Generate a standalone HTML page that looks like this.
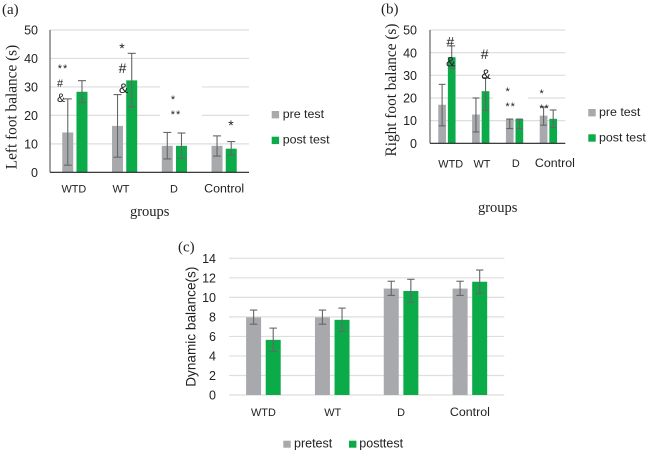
<!DOCTYPE html>
<html lang="en">
<head>
<meta charset="utf-8">
<title>Balance charts</title>
<style>
html,body{margin:0;padding:0;background:#fff}
body{width:648px;height:452px;overflow:hidden}
svg{display:block;filter:blur(.35px)}
.serif{font-family:"Liberation Serif",serif;fill:#222}
.sans{font-family:"Liberation Sans",sans-serif;fill:#222}
</style>
</head>
<body>
<svg id="figure" width="648" height="452" viewBox="0 0 648 452" xmlns="http://www.w3.org/2000/svg">
  <rect width="648" height="452" fill="#fff"/>

  <g id="panel-a">
    <text class="serif" x="2" y="14" font-size="15">(a)</text>
    <g id="a-grid"></g>
    <rect x="160" y="84" width="42" height="34" fill="#fff"/>
    <g id="a-marks"></g>
    <text class="serif" transform="translate(16.5,107) rotate(-90)" text-anchor="middle" font-size="15.3">Left foot balance (s)</text>
    <text class="serif" x="149.7" y="216" text-anchor="middle" font-size="14.5">groups</text>
    <rect x="271.7" y="111" width="7.4" height="7.4" fill="#a7a9ac"/>
    <text class="sans" x="282.7" y="118" font-size="12.4">pre test</text>
    <rect x="271.7" y="136.7" width="7.4" height="7.4" fill="#0bab4a"/>
    <text class="sans" x="282.7" y="143.7" font-size="12.4">post test</text>
    <g class="sans" text-anchor="middle">
      <text x="63" y="72" font-size="11" letter-spacing="1">**</text>
      <text x="60" y="87" font-size="11">#</text>
      <text x="61" y="102" font-size="12">&amp;</text>
      <text x="122" y="53" font-size="14">*</text>
      <text x="122.5" y="73" font-size="14">#</text>
      <text x="123.5" y="93" font-size="14">&amp;</text>
      <text x="173" y="103" font-size="11">*</text>
      <text x="176" y="118" font-size="11" letter-spacing="1">**</text>
      <text x="231" y="130" font-size="14">*</text>
    </g>
  </g>

  <g id="panel-b">
    <text class="serif" x="381" y="13.5" font-size="15">(b)</text>
    <g id="b-grid"></g>
    <rect x="493" y="96" width="35" height="4" fill="#fff"/>
    <g id="b-marks"></g>
    <text class="serif" transform="translate(396,90) rotate(-90)" text-anchor="middle" font-size="15.3">Right foot balance (s)</text>
    <text class="serif" x="497.7" y="212" text-anchor="middle" font-size="14.5">groups</text>
    <rect x="588.3" y="109" width="7.4" height="7.4" fill="#a7a9ac"/>
    <text class="sans" x="599" y="116" font-size="12.4">pre test</text>
    <rect x="588.3" y="134.3" width="7.4" height="7.4" fill="#0bab4a"/>
    <text class="sans" x="599" y="141.7" font-size="12.4">post test</text>
    <g class="sans" text-anchor="middle">
      <text x="450.3" y="46.5" font-size="14">#</text>
      <text x="450.7" y="66.5" font-size="14">&amp;</text>
      <text x="484.7" y="59" font-size="14">#</text>
      <text x="486" y="79" font-size="14">&amp;</text>
      <text x="507.7" y="95" font-size="11">*</text>
      <text x="510.7" y="110" font-size="11" letter-spacing="1">**</text>
      <text x="541.7" y="97" font-size="11">*</text>
      <text x="544.7" y="112" font-size="11" letter-spacing="1">**</text>
    </g>
  </g>

  <g id="panel-c">
    <text class="serif" x="178" y="251.5" font-size="15">(c)</text>
    <g id="c-grid"></g>
    <g id="c-marks"></g>
    <text class="sans" transform="translate(195.5,326.7) rotate(-90)" text-anchor="middle" font-size="13.6">Dynamic balance(s)</text>
    <rect x="283.3" y="440.7" width="7.4" height="7" fill="#a7a9ac"/>
    <text class="sans" x="294" y="447.7" font-size="12.5">pretest</text>
    <rect x="349" y="440.7" width="7.4" height="7" fill="#0bab4a"/>
    <text class="sans" x="359.3" y="447.7" font-size="12.5">posttest</text>
  </g>
</svg>

<script>
const categories = ['WTD', 'WT', 'D', 'Control'];
const ticksFoot = [0, 10, 20, 30, 40, 50];
const ticksDynamic = [0, 2, 4, 6, 8, 10, 12, 14];

const leftPre = [14, 16.3, 9.3, 9.3];
const leftPost = [28.3, 32.3, 9.3, 8.3];
const leftPreLow = [2.5, 5.3, 4.7, 5.7];
const leftPreHigh = [25.8, 27.3, 14, 12.8];
const leftPostLow = [24.5, 23, 5, 6];
const leftPostHigh = [32.2, 41.8, 13.8, 10.8];

const rightPre = [17, 12.7, 10.7, 12.2];
const rightPost = [38, 23, 10.7, 10.8];
const rightPreLow = [7.7, 5, 6.5, 8];
const rightPreHigh = [26, 20, 10.7, 16];
const rightPostLow = [33, 14.5, 6.5, 7];
const rightPostHigh = [43, 29, 10.7, 14.7];

const dynamicPre = [7.95, 7.95, 10.9, 10.9];
const dynamicPost = [5.65, 7.7, 10.65, 11.6];
const dynamicPreLow = [7.25, 7.25, 10.2, 10.2];
const dynamicPreHigh = [8.7, 8.7, 11.65, 11.65];
const dynamicPostLow = [4.45, 6.5, 9.5, 10.4];
const dynamicPostHigh = [6.85, 8.9, 11.85, 12.8];

const SVGNS = 'http://www.w3.org/2000/svg';

function make(tag, parent, props) {
  const el = document.createElementNS(SVGNS, tag);
  for (const k in props) el.setAttribute(k, props[k]);
  parent.appendChild(el);
  return el;
}

function drawChart(cfg) {
  const grid = document.getElementById(cfg.id + '-grid');
  const marks = document.getElementById(cfg.id + '-marks');
  const maxTick = cfg.ticks[cfg.ticks.length - 1];
  const y = v => cfg.y0 - (v / maxTick) * (cfg.y0 - cfg.yTop);
  const band = (cfg.x1 - cfg.x0) / categories.length;
  const cx = i => cfg.x0 + band * (i + 0.5);

  cfg.ticks.forEach(t => {
    if (t !== 0 || !cfg.axes) {
      const line = make('line', grid, {x1: cfg.x0, x2: cfg.x1, y1: y(t), y2: y(t), stroke: '#dedede', 'stroke-width': 1.2});
      
      
    }
    const label = make('text', marks, {x: cfg.tickX, y: y(t) + 4.6, 'text-anchor': 'end', 'font-size': cfg.tickSize, class: 'sans'});
    label.textContent = t;
    
    
  });

  function series(values, low, high, color, offset, name) {
    values.forEach((v, i) => {
      const left = cx(i) + offset - cfg.barW / 2;
      const bar = make('rect', marks, {x: left, y: y(v), width: cfg.barW, height: y(0) - y(v), fill: color});
      
      
      const mid = left + cfg.barW / 2;
      const stem = make('line', marks, {x1: mid, x2: mid, y1: y(high[i]), y2: y(low[i]), stroke: '#666', 'stroke-width': 1.1});
      
      
      [low[i], high[i]].forEach(e => {
        const cap = make('line', marks, {x1: mid - cfg.cap, x2: mid + cfg.cap, y1: y(e), y2: y(e), stroke: '#666', 'stroke-width': 1.1});
        
        
      });
    });
  }
  series(cfg.pre, cfg.preLow, cfg.preHigh, '#a7a9ac', -cfg.barOff, 'pre');
  series(cfg.post, cfg.postLow, cfg.postHigh, '#0bab4a', cfg.barOff, 'post');

  if (cfg.axes) {
    const yAxis = make('line', marks, {x1: cfg.x0, x2: cfg.x0, y1: cfg.yTop, y2: cfg.y0, stroke: '#444', 'stroke-width': 1});
    
    
    const xAxis = make('line', marks, {x1: cfg.x0, x2: cfg.x1, y1: cfg.y0, y2: cfg.y0, stroke: '#222', 'stroke-width': 1.2});
    
    
  }

  categories.forEach((c, i) => {
    const nudge = cfg.labelNudge[i];
    const size = c === c.toUpperCase() ? cfg.labelSize * 0.88 : cfg.labelSize;
    const label = make('text', marks, {x: cx(i) + nudge.dx, y: cfg.labelY + nudge.dy, 'text-anchor': 'middle', 'font-size': size, class: 'sans'});
    label.textContent = c;
    
    
  });
}

drawChart({
  id: 'a', x0: 50, x1: 249, y0: 172.3, yTop: 30, ticks: ticksFoot, tickX: 38, tickSize: 12.5,
  barW: 11, barOff: 7.1, cap: 4, axes: true, labelY: 192.5, labelSize: 12.4,
  labelNudge: [{dx: -1, dy: 0}, {dx: -3.7, dy: 0}, {dx: -0.4, dy: 0}, {dx: 0, dy: 0}],
  pre: leftPre, post: leftPost, preLow: leftPreLow, preHigh: leftPreHigh, postLow: leftPostLow, postHigh: leftPostHigh
});
drawChart({
  id: 'b', x0: 430, x1: 565.3, y0: 143.3, yTop: 30, ticks: ticksFoot, tickX: 417, tickSize: 12.5,
  barW: 7.7, barOff: 4.8, cap: 3.4, axes: true, labelY: 167, labelSize: 12.4,
  labelNudge: [{dx: 3.8, dy: 0.7}, {dx: 1.2, dy: 0.7}, {dx: 1.3, dy: 0}, {dx: 6.5, dy: 0}],
  pre: rightPre, post: rightPost, preLow: rightPreLow, preHigh: rightPreHigh, postLow: rightPostLow, postHigh: rightPostHigh
});
drawChart({
  id: 'c', x0: 229, x1: 504.3, y0: 395, yTop: 258.3, ticks: ticksDynamic, tickX: 216, tickSize: 12.5,
  barW: 15, barOff: 9.8, cap: 3.7, axes: false, labelY: 416, labelSize: 12.4,
  labelNudge: [{dx: 0, dy: 0}, {dx: 0.5, dy: 0}, {dx: 0, dy: 0}, {dx: 0, dy: 0}],
  pre: dynamicPre, post: dynamicPost, preLow: dynamicPreLow, preHigh: dynamicPreHigh, postLow: dynamicPostLow, postHigh: dynamicPostHigh
});
</script>
</body>
</html>
